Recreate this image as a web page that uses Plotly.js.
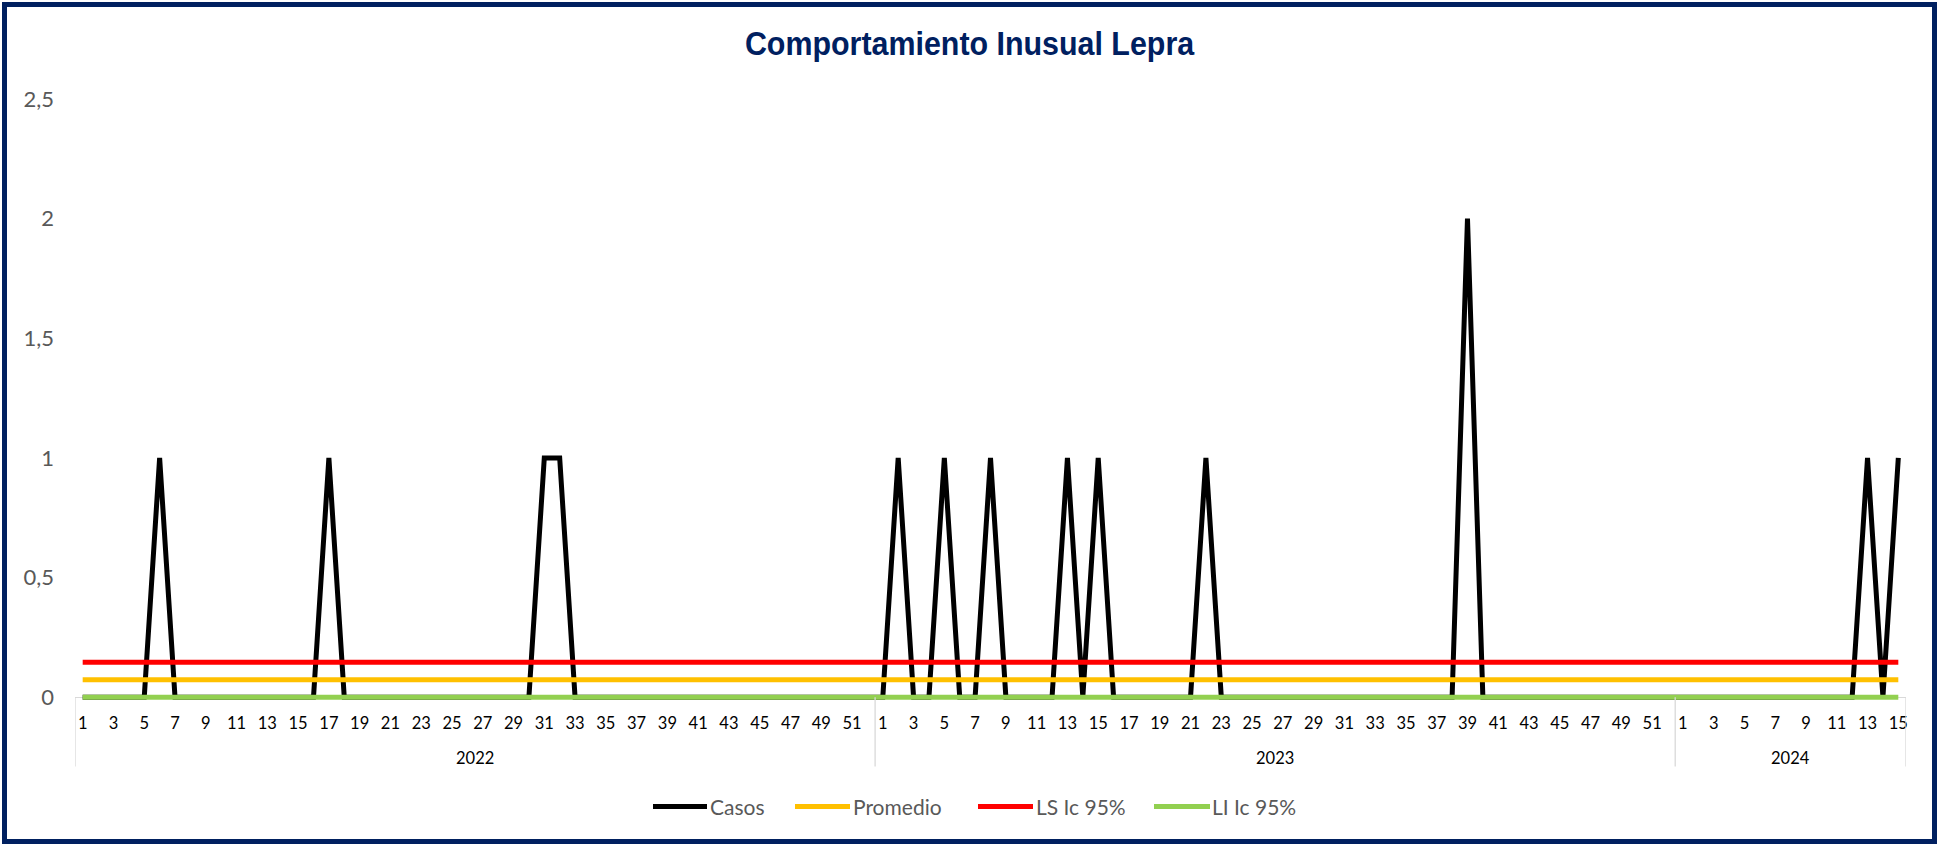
<!DOCTYPE html>
<html>
<head>
<meta charset="utf-8">
<script src="https://cdn.plot.ly/plotly-3.0.1.min.js"></script>
<style>
  html, body { margin: 0; padding: 0; background: #ffffff; }
  #wrap { position: relative; width: 1939px; height: 846px; overflow: hidden; }
  #chart { position: absolute; left: 0; top: 0; width: 1939px; height: 846px; }
  #frame { position: absolute; left: 2px; top: 2px; width: 1935px; height: 842px; box-sizing: border-box; border: 5px solid #002060; pointer-events: none; }
</style>
</head>
<body>
<div id="wrap">
  <div id="chart"></div>
  <div id="frame"></div>
</div>
<script>
// ---- Data ----
const years = ["2022", "2023", "2024"];

const weeks2022 = [1,2,3,4,5,6,7,8,9,10,11,12,13,14,15,16,17,18,19,20,21,22,23,24,25,26,27,28,29,30,31,32,33,34,35,36,37,38,39,40,41,42,43,44,45,46,47,48,49,50,51,52];
const weeks2023 = [1,2,3,4,5,6,7,8,9,10,11,12,13,14,15,16,17,18,19,20,21,22,23,24,25,26,27,28,29,30,31,32,33,34,35,36,37,38,39,40,41,42,43,44,45,46,47,48,49,50,51,52];
const weeks2024 = [1,2,3,4,5,6,7,8,9,10,11,12,13,14,15];

const casos2022 = [0,0,0,0,0,1,0,0,0,0,0,0,0,0,0,0,1,0,0,0,0,0,0,0,0,0,0,0,0,0,1,1,0,0,0,0,0,0,0,0,0,0,0,0,0,0,0,0,0,0,0,0];
const casos2023 = [0,1,0,0,1,0,0,1,0,0,0,0,1,0,1,0,0,0,0,0,0,1,0,0,0,0,0,0,0,0,0,0,0,0,0,0,0,0,2,0,0,0,0,0,0,0,0,0,0,0,0,0];
const casos2024 = [0,0,0,0,0,0,0,0,0,0,0,0,1,0,1];

const promedioValue = 0.073;   // Promedio
const lsValue = 0.146;         // LS Ic 95%
const liValue = 0;             // LI Ic 95%

const seriesNames = ["Casos", "Promedio", "LS Ic 95%", "LI Ic 95%"];
const seriesColors = ["#000000", "#FFC000", "#FF0000", "#92D050"];

// ---- Build combined axis ----
const weeksByYear = [weeks2022, weeks2023, weeks2024];
const casosByYear = [casos2022, casos2023, casos2024];

const xIdx = [], weekLabels = [], casos = [];
const yearSpans = [];
let k = 0;
weeksByYear.forEach((wk, yi) => {
  const start = k;
  wk.forEach((w, j) => {
    xIdx.push(k);
    weekLabels.push(String(w));
    casos.push(casosByYear[yi][j]);
    k++;
  });
  yearSpans.push({year: years[yi], start: start, end: k - 1});
});
const N = xIdx.length;

const tickvals = [], ticktext = [];
xIdx.forEach((x, i) => {
  if (parseInt(weekLabels[i]) % 2 === 1) { tickvals.push(x); ticktext.push(weekLabels[i]); }
});

const promedio = xIdx.map(() => promedioValue);
const ls = xIdx.map(() => lsValue);
const li = xIdx.map(() => liValue);

const allY = [casos, promedio, ls, li];
const traces = allY.map((y, i) => ({
  type: "scatter",
  mode: "lines",
  x: xIdx,
  y: y,
  name: seriesNames[i],
  line: {color: seriesColors[i], width: 5},
  showlegend: false,
  hoverinfo: "x+y+name"
}));

// ---- geometry (pixels) ----
const W = 1939, H = 846;
const mL = 75, mR = 33, mT = 99;
const yMin = -0.012, yMax = 2.5;
const zeroPx = 697.5;
const pxPerUnit = (zeroPx - mT) / (yMax - 0);
const plotBottom = zeroPx + (0 - yMin) * pxPerUnit;
const mB = H - plotBottom;
const plotW = W - mL - mR, plotH = plotBottom - mT;
const px2paperX = p => (p - mL) / plotW;
const px2paperY = p => (plotBottom - p) / plotH;

// year dividers and labels
const shapes = [];
const annotations = [];
const bounds = [-0.5].concat(yearSpans.map(s => s.end + 0.5));
bounds.forEach(b => {
  shapes.push({type: "line", xref: "x", yref: "paper", x0: b, x1: b, y0: px2paperY(zeroPx), y1: px2paperY(767),
    line: {color: "#D9D9D9", width: 1.3}});
});
yearSpans.forEach(s => annotations.push({
  xref: "x", yref: "paper", x: (s.start + s.end) / 2, y: px2paperY(758),
  text: s.year, showarrow: false, xanchor: "center", yanchor: "middle",
  font: {family: "Lato, 'Open Sans', sans-serif", size: 16.5, color: "#000000"}
}));

// legend (line samples + labels)
const legendY = 807;
const legendItems = [
  {x0: 653, x1: 707, tx: 709},
  {x0: 795, x1: 850, tx: 852},
  {x0: 978, x1: 1033, tx: 1035},
  {x0: 1154, x1: 1210, tx: 1211}
];
legendItems.forEach((it, i) => {
  shapes.push({type: "line", xref: "paper", yref: "paper",
    x0: px2paperX(it.x0), x1: px2paperX(it.x1), y0: px2paperY(legendY), y1: px2paperY(legendY),
    line: {color: seriesColors[i], width: 5}});
  annotations.push({xref: "paper", yref: "paper", x: px2paperX(it.tx), y: px2paperY(legendY),
    text: seriesNames[i], showarrow: false, xanchor: "left", yanchor: "middle", borderpad: 0,
    font: {family: "Lato, 'Open Sans', sans-serif", size: 21, color: "#595959"}});
});

const layout = {
  width: W,
  height: H,
  margin: {l: mL, r: mR, t: mT, b: mB, pad: 0},
  paper_bgcolor: "#ffffff",
  plot_bgcolor: "#ffffff",
  separators: ",.",
  showlegend: false,
  title: {
    text: "<b>Comportamiento Inusual Lepra</b>",
    xref: "container", x: 0.5, xanchor: "center",
    yref: "container", y: 1 - 43/846, yanchor: "middle",
    font: {family: "'Liberation Sans Narrow', 'Arial Narrow', 'Liberation Sans', sans-serif", size: 33, color: "#002060"}
  },
  xaxis: {
    type: "linear",
    range: [-0.5, N - 0.5],
    tickmode: "array",
    tickvals: tickvals,
    ticktext: ticktext,
    ticks: "",
    showgrid: false,
    zeroline: false,
    showline: false,
    tickangle: 0,
    ticklabelstandoff: 11,
    tickfont: {family: "Lato, 'Open Sans', sans-serif", size: 16.5, color: "#000000"},
    fixedrange: true
  },
  yaxis: {
    range: [yMin, yMax],
    tickmode: "array",
    tickvals: [0, 0.5, 1, 1.5, 2, 2.5],
    ticks: "",
    showgrid: false,
    zeroline: true,
    zerolinecolor: "#D9D9D9",
    zerolinewidth: 1,
    showline: false,
    ticklabelstandoff: 20,
    tickfont: {family: "Lato, 'Open Sans', sans-serif", size: 22, color: "#595959"},
    fixedrange: true
  },
  shapes: shapes,
  annotations: annotations
};

Plotly.newPlot("chart", traces, layout, {displayModeBar: false}).then(gd => {
  // condense the title horizontally to mimic a narrow bold face
  const t = gd.querySelector(".gtitle");
  if (t) {
    const bb = t.getBBox();
    const target = 450;
    if (bb.width > target + 4) {
      const s = target / bb.width;
      const cx = bb.x + bb.width / 2;
      t.setAttribute("transform", `translate(${cx},0) scale(${s},1) translate(${-cx},0)`);
    }
  }
});
</script>
</body>
</html>
